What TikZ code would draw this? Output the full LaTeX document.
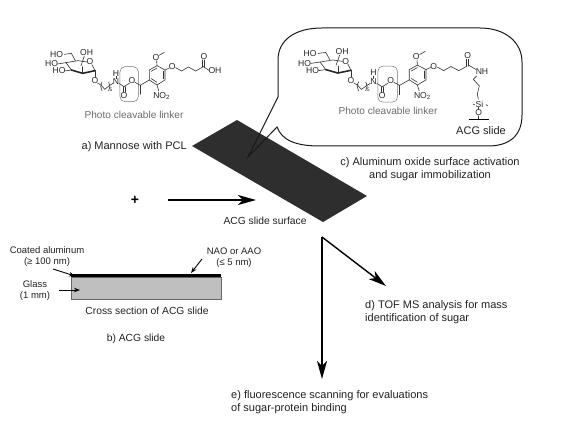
\documentclass[tikz,border=0pt]{standalone}
\usepackage{fontspec}
\setmainfont{Liberation Sans}
\usetikzlibrary{arrows.meta}
\definecolor{ink}{gray}{0.13}
\definecolor{linkgray}{gray}{0.42}
\tikzset{
  lbl/.style={font=\fontsize{11}{12}\selectfont,text=ink,inner sep=0pt,align=center},
  lblleft/.style={lbl,align=left,anchor=west},
  small/.style={font=\fontsize{10.3}{11}\selectfont,text=ink,inner sep=0pt,align=center},
  tiny/.style={font=\fontsize{9.5}{11}\selectfont,text=ink,inner sep=0pt,align=center},
  atom/.style={font=\fontsize{8.6}{9}\selectfont,text=black!85,inner sep=0pt},
  bond/.style={line width=0.6pt,draw=black!80,line cap=round,line join=round},
  wedge/.style={line width=1.6pt,draw=black!85,line cap=round},
  bigarrow/.style={line width=1.4pt,draw=black,-{Stealth[length=18pt,width=10pt,inset=5pt]}},
  thinarrow/.style={line width=0.9pt,draw=black,-{Stealth[length=6pt,width=4.5pt]}},
  linkbox/.style={line width=0.5pt,draw=black!55},
  linktext/.style={font=\fontsize{10.1}{11}\selectfont,text=linkgray,inner sep=0pt},
}
\newcommand{\molcore}[1]{%
  % sugar
  \node[atom] (#1ho1) at (80,103) {HO};
  \node[atom] (#1oh1) at (170,97) {OH};
  \node[atom] (#1ho2) at (65,131) {HO};
  \node[atom] (#1ho3) at (87,153) {HO};
  \node[atom] (#1oring) at (180,126) {O};
  \node[atom] (#1oglyc) at (195,183) {O};
  \draw[bond] (103,103)--(124,100)--(136,122);
  \draw[bond] (163,108)--(153,137);
  \draw[bond] (82,132)--(108,128);
  \draw[bond] (104,153)--(124,150);
  \draw[bond] (108,128)--(143,122)--(171,126);
  \draw[bond] (108,128)--(124,150);
  \draw[bond] (186,134)--(195,152);
  \draw[wedge] (124,150)--(158,160)--(195,152);
  \draw[bond] (158,160)--(158,140);
  \draw[bond] (195,152)--(195,172);
  % linker chain
  \draw[bond] (203,189)--(214,196)--(224,208)--(238,197)--(249,190);
  \draw[bond] (216,186) .. controls (211,195) and (211,204) .. (216,212);
  \draw[bond] (236,186) .. controls (241,195) and (241,204) .. (236,212);
  \node[atom,font=\fontsize{5}{6}\selectfont] (#1five) at (243,210) {5};
  \node[atom] (#1n) at (258,185) {N};
  \node[atom] (#1h) at (258,160) {H};
  \draw[bond] (258,169)--(258,176);
  \draw[bond] (267,190)--(282,200);
  \draw[bond] (280,200)--(280,216);
  \draw[bond] (285,200)--(285,216);
  \draw[bond] (282,200)--(298,190);
  \node[atom] (#1oco) at (282,226) {O};
  \node[atom] (#1oest) at (306,182) {O};
  \draw[linkbox,rounded corners=5pt] (270,140) rectangle (325,245);
  \draw[bond] (315,187)--(331,196);
  \draw[bond] (331,196)--(331,223);
  \draw[bond] (331,196)--(358,180);
  % aromatic ring
  \draw[bond] (358,150)--(381,137)--(405,150)--(405,180)--(381,195)--(358,180)--cycle;
  \draw[bond] (364,154)--(381,144);
  \draw[bond] (399,154)--(399,176);
  \draw[bond] (364,176)--(381,187);
  \node[atom] (#1ome) at (378,112) {O};
  \draw[bond] (381,137)--(380,122);
  \draw[bond] (387,106)--(403,97);
  \node[atom] (#1oeth) at (427,140) {O};
  \draw[bond] (405,150)--(418,144);
  \draw[bond] (381,195)--(386,212);
  \node[atom] (#1no) at (395,228) {NO\textsubscript{2}};
  \draw[bond] (437,143)--(455,153)--(475,141)--(497,153)--(520,140);
  \draw[bond] (518,140)--(518,120);
  \draw[bond] (523,140)--(523,120);
  \node[atom] (#1oket) at (522,110) {O};
}
\begin{document}
\begin{tikzpicture}[x=1pt,y=-1pt]
\useasboundingbox (0,0) rectangle (573,425);
% slide
\fill[black!82] (192,146)--(237,120)--(367,196)--(323,222)--cycle;
% callout
\draw[line width=1pt,draw=black!90,line join=miter]
  (278,97)--(248,157)--(277,127)
  .. controls (282,140) and (295,146) .. (320,146)
  --(488,146)
  .. controls (510,146) and (522,135) .. (522,115)
  --(522,62)
  .. controls (522,42) and (505,28) .. (480,28)
  --(322,28)
  .. controls (295,28) and (278,40) .. (278,60)
  --cycle;
% left molecule
\begin{scope}[shift={(30,20)},x=0.3333pt,y=-0.3333pt]
  \molcore{a}
  \node[atom] (aoh) at (555,153) {OH};
  \draw[bond] (520,140)--(537,151);
\end{scope}
\node[linktext] (plink) at (134,115) {Photo cleavable linker};
% right molecule
\begin{scope}[shift={(281.5,18.1)},x=0.3567pt,y=-0.3433pt]
  \molcore{b}
\end{scope}
\node[linktext] (plinkb) at (388,111) {Photo cleavable linker};
\begin{scope}[shift={(270,20)},x=0.3333pt,y=-0.3333pt]
  \node[atom] (bnh) at (636,155) {NH};
  \draw[bond] (595,135)--(617,148);
  \draw[bond] (620,168)--(610,178)--(628,198)--(622,222)--(625,238);
  \node[atom] (bsi) at (624,252) {-Si};
  \draw[bond] (648,254)--(654,258);
  \node[atom] (boo) at (626,277) {O};
  \draw[bond] (626,262)--(626,267);
  \draw[bond] (626,287)--(626,298);
  \draw[line width=1.5pt,draw=black] (597,299)--(657,299);
\end{scope}
\node[lbl] (acgin) at (481,131) {ACG slide};
% labels
\node[lbl,anchor=east] (la) at (187,147) {a) Mannose with PCL};
\node[lbl] (lc) at (430,169) {c) Aluminum oxide surface activation\\[0.5pt]and sugar immobilization};
\node[small] (lsurf) at (265,221) {ACG slide surface};
\node[font=\bfseries\fontsize{14}{14}\selectfont,inner sep=0pt] (plus) at (135,200) {+};
\coordinate (arrS) at (168,200);
\coordinate (arrE) at (256,200);
\draw[bigarrow] (arrS)--(arrE);
% outcome arrows
\coordinate (hub) at (322,237);
\coordinate (dtip) at (386,286);
\coordinate (etip) at (322,379);
\draw[bigarrow] (hub)--(dtip);
\draw[bigarrow] (hub)--(etip);
\node[lblleft] (ld) at (365,312) {d) TOF MS analysis for mass\\[0.5pt]identification of sugar};
\node[lblleft] (le) at (231,402) {e) fluorescence scanning for evaluations\\[0.5pt]of sugar-protein binding};
% cross-section
\fill[black!25] (71,277) rectangle (221,299);
\draw[line width=1pt,draw=black!60] (71,277) rectangle (221,299);
\fill[black] (71,273.5) rectangle (221,277);
\node[tiny] (lcoat) at (47,256.5) {Coated aluminum\\[0.5pt](≥ 100 nm)};
\node[tiny] (lglass) at (35,290.5) {Glass\\[0.5pt](1 mm)};
\node[tiny] (lnao) at (234,257.5) {NAO or AAO\\[0.5pt](≤ 5 nm)};
\coordinate (cA) at (53,269); \coordinate (cB) at (75,276);
\coordinate (nA) at (202,259); \coordinate (nB) at (191,273);
\coordinate (gA) at (59,290); \coordinate (gB) at (80,290);
\draw[thinarrow] (cA)--(cB);
\draw[thinarrow] (nA)--(nB);
\draw[thinarrow] (gA)--(gB);
\node[small] (lcs) at (147,311) {Cross section of ACG slide};
\node[small] (lb) at (136,339) {b) ACG slide};
\end{tikzpicture}
\end{document}
